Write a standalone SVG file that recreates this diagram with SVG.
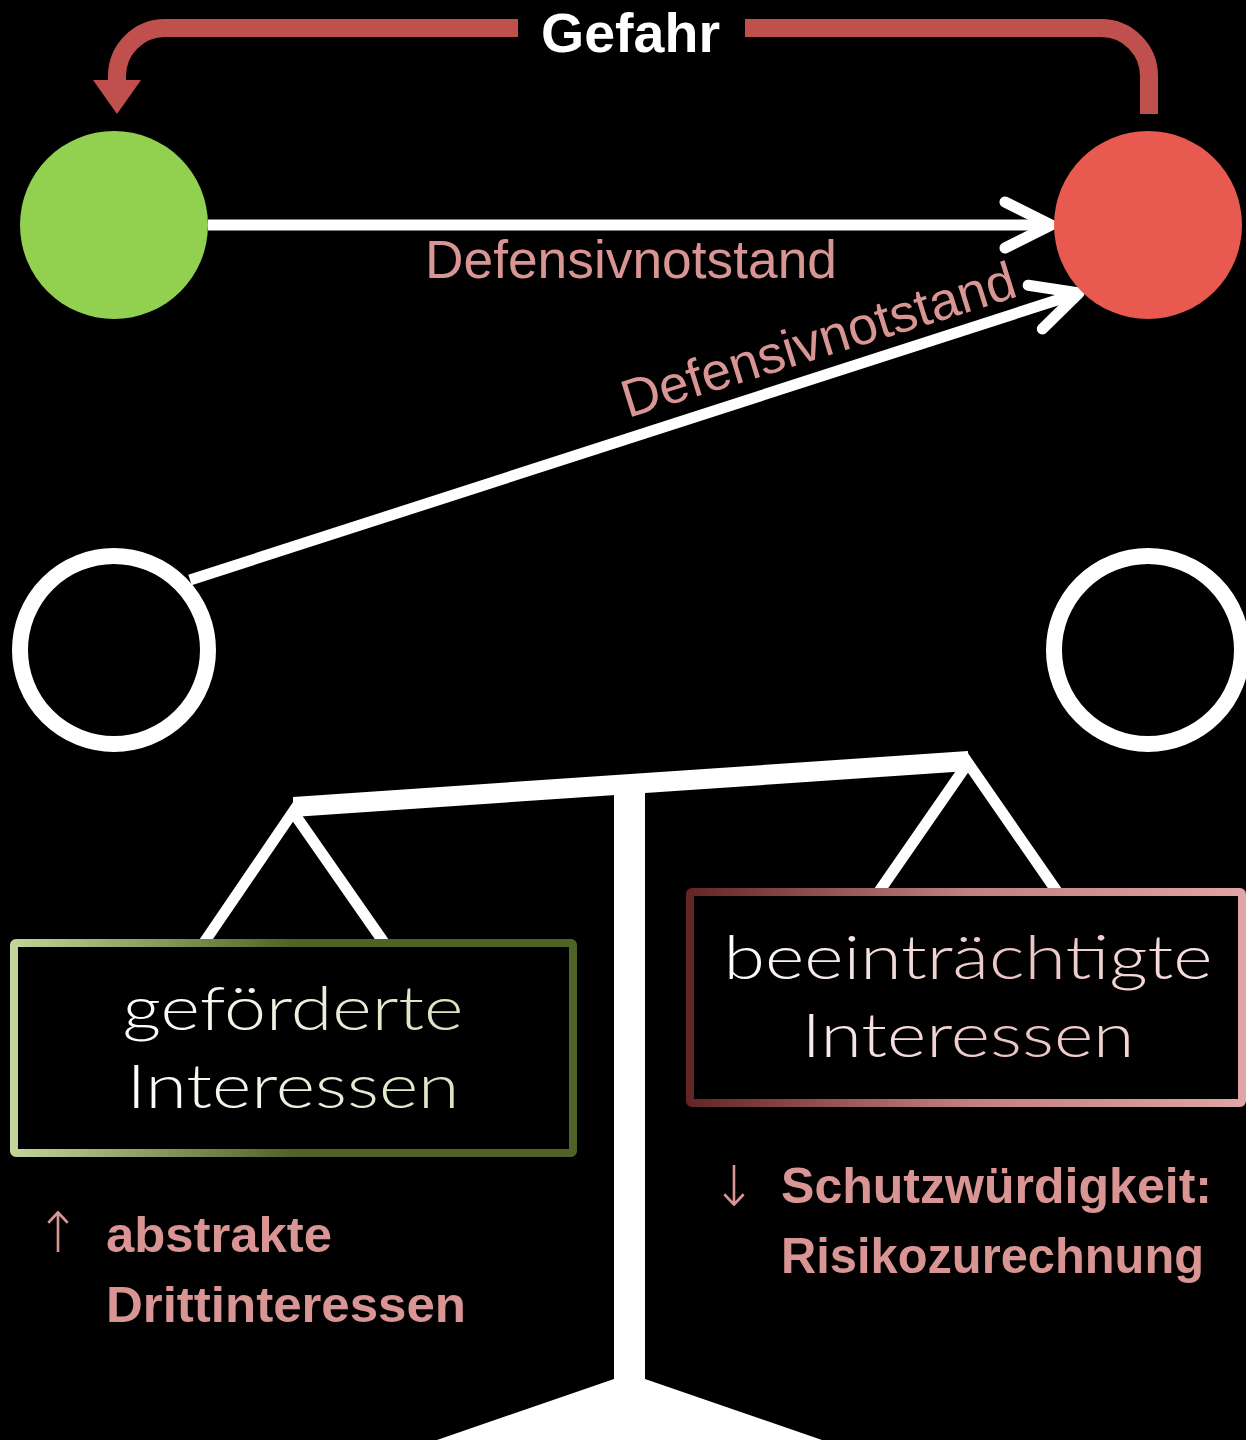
<svg xmlns="http://www.w3.org/2000/svg" width="1246" height="1440" viewBox="0 0 1246 1440">
<style>
  .lbl { font-family: "Liberation Sans", Arial, sans-serif; font-size: 53px; fill: #D99594; }
  .note { font-family: "Liberation Sans", Arial, sans-serif; font-size: 50px; font-weight: bold; fill: #D99594; }
  .arr { font-family: "DejaVu Sans", "Liberation Sans", sans-serif; font-size: 56px; font-weight: 200; fill: #D99594; }
  .box { font-family: Lato, "Open Sans", sans-serif; font-weight: 300; font-size: 62px; text-anchor: middle; }
  .wline { fill: none; stroke: #FFFFFF; stroke-width: 11; }
  .rline { fill: none; stroke: #C0504D; stroke-width: 18; }
  .hang { fill: none; stroke: #FFFFFF; stroke-width: 11; stroke-linejoin: miter; }
</style>
<defs>
  <marker id="chev" markerUnits="userSpaceOnUse" markerWidth="80" markerHeight="80" viewBox="-60 -40 80 80" refX="0" refY="0" orient="auto" overflow="visible">
    <path d="M-46,-23 L0,0 L-46,23" fill="none" stroke="#FFFFFF" stroke-width="11" stroke-linecap="round" stroke-linejoin="round"/>
  </marker>
  <marker id="tri" markerUnits="userSpaceOnUse" markerWidth="80" markerHeight="80" viewBox="-10 -40 80 80" refX="0" refY="0" orient="auto" overflow="visible">
    <path d="M0,-24 L34,0 L0,24 Z" fill="#C0504D"/>
  </marker>
  <linearGradient id="gBorder" gradientUnits="userSpaceOnUse" x1="10" y1="0" x2="577" y2="0">
    <stop offset="0" stop-color="#C3D69B"/>
    <stop offset="0.5" stop-color="#4F6228"/>
    <stop offset="1" stop-color="#4F6228"/>
  </linearGradient>
  <linearGradient id="rBorder" gradientUnits="userSpaceOnUse" x1="686" y1="0" x2="1246" y2="0">
    <stop offset="0" stop-color="#632523"/>
    <stop offset="0.5" stop-color="#C0807F"/>
    <stop offset="1" stop-color="#E0A5A4"/>
  </linearGradient>
  <linearGradient id="gText" gradientUnits="userSpaceOnUse" x1="120" y1="0" x2="465" y2="0">
    <stop offset="0" stop-color="#FFFFFF"/>
    <stop offset="1" stop-color="#D7E4BD"/>
  </linearGradient>
  <linearGradient id="rText" gradientUnits="userSpaceOnUse" x1="720" y1="0" x2="1215" y2="0">
    <stop offset="0" stop-color="#FFFFFF"/>
    <stop offset="0.6" stop-color="#EBC3C2"/>
    <stop offset="1" stop-color="#F7E4E3"/>
  </linearGradient>
</defs>
<rect width="1246" height="1440" fill="#000000"/>

<g id="connectors">
  <path class="rline" d="M518,28 H165 A48,48 0 0 0 117,76 V80" marker-end="url(#tri)"/>
  <path class="rline" d="M745,28 H1101 A48,48 0 0 1 1149,76 V114"/>
  <path class="wline" d="M208,225 H1051" marker-end="url(#chev)"/>
  <path class="wline" d="M190,580 L1079,293" marker-end="url(#chev)"/>
</g>

<g id="label-gefahr">
  <text x="541" y="52" font-family="Liberation Sans, Arial, sans-serif" font-size="56" font-weight="bold" fill="#FFFFFF" textLength="179" lengthAdjust="spacingAndGlyphs">Gefahr</text>
</g>
<g id="label-defensiv-1">
  <text class="lbl" x="425" y="278" textLength="412" lengthAdjust="spacingAndGlyphs">Defensivnotstand</text>
</g>
<g id="label-defensiv-2">
  <text class="lbl" x="628" y="418" transform="rotate(-17.3 628 418)" textLength="410" lengthAdjust="spacingAndGlyphs">Defensivnotstand</text>
</g>

<g id="node-green">
  <circle cx="114" cy="225" r="94" fill="#92D050"/>
</g>
<g id="node-red">
  <circle cx="1148" cy="225" r="94" fill="#E85A4F"/>
</g>
<g id="node-left-ring">
  <circle cx="114" cy="650" r="94" fill="none" stroke="#FFFFFF" stroke-width="16"/>
</g>
<g id="node-right-ring">
  <circle cx="1148" cy="650" r="94" fill="none" stroke="#FFFFFF" stroke-width="16"/>
</g>

<g id="scale">
  <polygon points="293,797 968,751 968,771 293,817" fill="#FFFFFF"/>
  <polygon points="614,790 645,790 645,1379 822,1440 437,1440 614,1379" fill="#FFFFFF"/>
  <polyline class="hang" points="203,944 293,812 385,944"/>
  <polyline class="hang" points="878,893 968,763 1058,893"/>
</g>

<g id="box-gefoerderte">
  <rect x="14" y="943" width="559" height="210" rx="2" fill="#000000" stroke="url(#gBorder)" stroke-width="8"/>
  <text class="box" x="293" y="1030" fill="url(#gText)" textLength="341" lengthAdjust="spacingAndGlyphs">geförderte</text>
  <text class="box" x="293" y="1108" fill="url(#gText)" textLength="333" lengthAdjust="spacingAndGlyphs">Interessen</text>
</g>

<g id="box-beeintraechtigte">
  <rect x="690" y="892" width="552" height="211" rx="2" fill="#000000" stroke="url(#rBorder)" stroke-width="8"/>
  <text class="box" x="968" y="979" fill="url(#rText)" textLength="489" lengthAdjust="spacingAndGlyphs">beeinträchtigte</text>
  <text class="box" x="968" y="1057" fill="url(#rText)" textLength="333" lengthAdjust="spacingAndGlyphs">Interessen</text>
</g>

<g id="note-left">
  <text class="arr" x="36" y="1252" textLength="44" lengthAdjust="spacingAndGlyphs">↑</text>
  <text class="note" x="106" y="1252" textLength="226" lengthAdjust="spacingAndGlyphs">abstrakte</text>
  <text class="note" x="106" y="1322" textLength="360" lengthAdjust="spacingAndGlyphs">Drittinteressen</text>
</g>

<g id="note-right">
  <text class="arr" x="712" y="1206" textLength="44" lengthAdjust="spacingAndGlyphs">↓</text>
  <text class="note" x="781" y="1203" textLength="431" lengthAdjust="spacingAndGlyphs">Schutzwürdigkeit:</text>
  <text class="note" x="781" y="1273" textLength="423" lengthAdjust="spacingAndGlyphs">Risikozurechnung</text>
</g>
</svg>
